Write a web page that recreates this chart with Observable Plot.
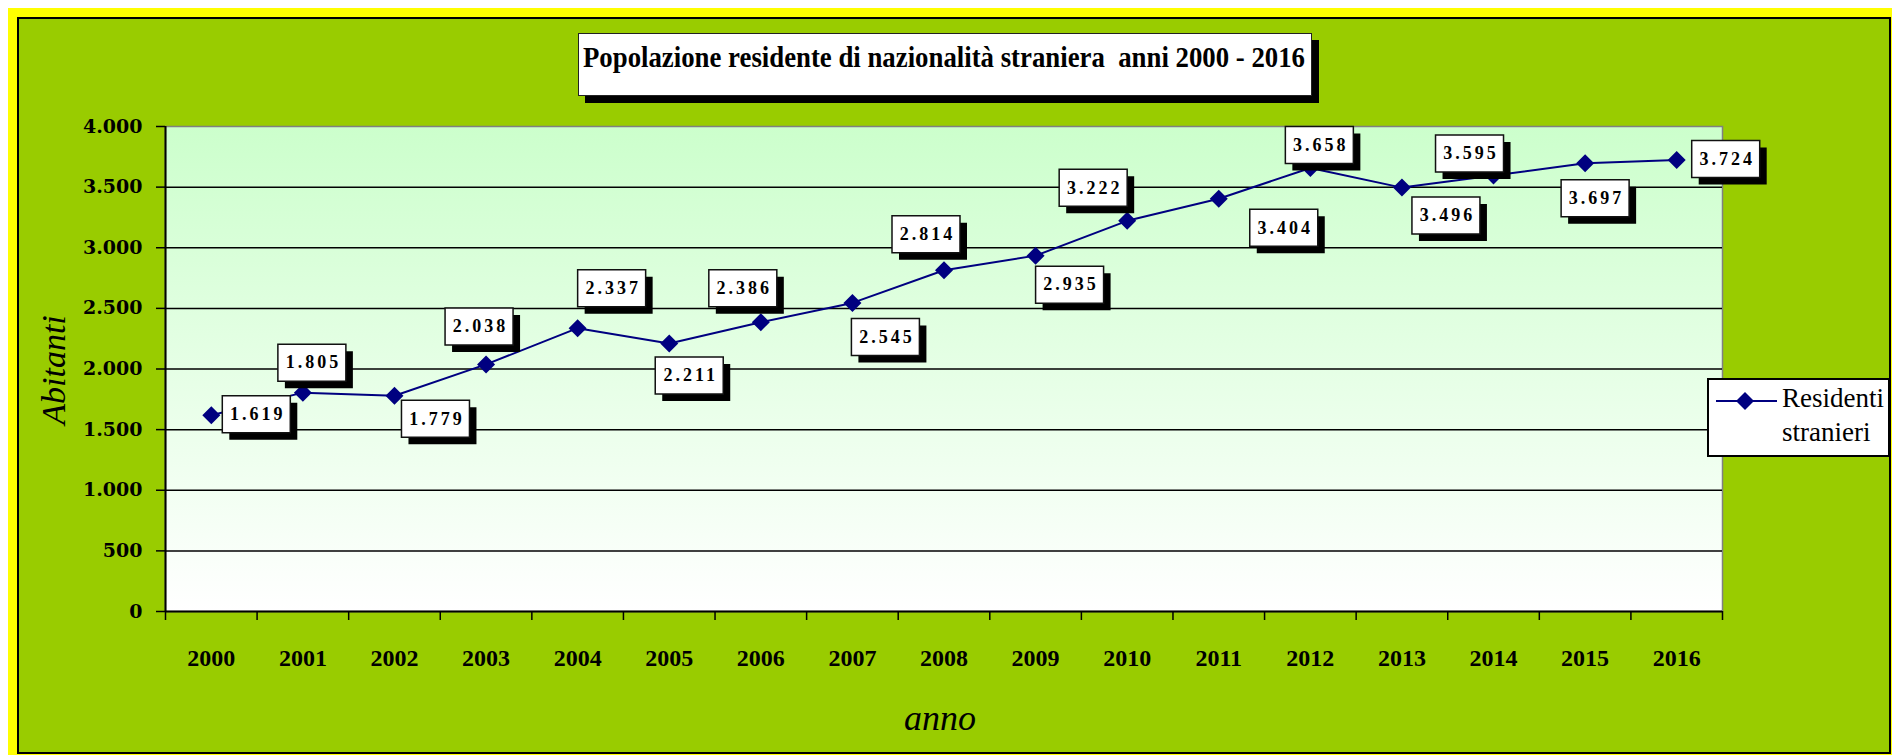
<!DOCTYPE html>
<html>
<head>
<meta charset="utf-8">
<script src="https://cdn.jsdelivr.net/npm/d3@7"></script>
<script src="https://cdn.jsdelivr.net/npm/@observablehq/plot@0.6"></script>
<style>
html, body { margin: 0; padding: 0; background: #fff; }
#page { position: relative; width: 1892px; height: 755px; overflow: hidden; }
#yellow { position: absolute; left: 8px; top: 8px; right: 0; bottom: 0; background: #ffff00; }
#green { position: absolute; left: 17px; top: 17px; width: 1874px; height: 737px; box-sizing: border-box; border: 2px solid #000; background: #99cc00; }
#chart { position: absolute; left: 0; top: 0; }
#title { position: absolute; left: 578px; top: 33px; width: 734px; height: 63px; box-sizing: border-box; background: #fff; border: 1.5px solid #222; box-shadow: 7px 7px 0 #000; }
#title svg, #legend svg { display: block; }
#legend { position: absolute; left: 1707px; top: 378px; width: 183px; height: 79px; box-sizing: border-box; background: #fff; border: 2px solid #000; }
#ylabel { position: absolute; left: 54px; top: 370px; transform: translate(-50%, -50%) rotate(-90deg); font: italic 34px "Liberation Serif"; white-space: nowrap; color: #000; }
#xlabel { position: absolute; left: 940px; top: 718px; transform: translate(-50%, -50%); font: italic 36px "Liberation Serif"; white-space: nowrap; color: #000; }
g[aria-label="y-axis tick label"] { font-family: "DejaVu Serif"; font-weight: bold; font-size: 19px; fill: #000; }
g[aria-label="x-axis tick label"] { font-family: "Liberation Serif"; font-weight: bold; font-size: 24px; fill: #000; }
g[aria-label="text"] text { letter-spacing: 3px; }
</style>
</head>
<body>
<div id="page">
  <div id="yellow"></div>
  <div id="green"></div>
  <div id="chart"></div>
  <div id="title"><svg width="731" height="60"><text transform="translate(365,33) scale(0.893,1)" x="0" y="0" text-anchor="middle" font-family="Liberation Serif" font-weight="bold" font-size="30" xml:space="preserve">Popolazione residente di nazionalità straniera  anni 2000 - 2016</text></svg></div>
  <div id="legend"><svg width="179" height="75">
    <line x1="7" x2="68" y1="21" y2="21" stroke="#000080" stroke-width="2"></line>
    <path d="M36,12L45,21L36,30L27,21Z" fill="#000080"></path>
    <text x="73" y="27" font-family="Liberation Serif" font-size="27">Residenti</text>
    <text x="73" y="61" font-family="Liberation Serif" font-size="27">stranieri</text>
  </svg></div>
  <div id="ylabel">Abitanti</div>
  <div id="xlabel">anno</div>
</div>
<script>
// ---- data ----
const years = [2000, 2001, 2002, 2003, 2004, 2005, 2006, 2007, 2008, 2009, 2010, 2011, 2012, 2013, 2014, 2015, 2016];
const residenti = [1619, 1805, 1779, 2038, 2337, 2211, 2386, 2545, 2814, 2935, 3222, 3404, 3658, 3496, 3595, 3697, 3724];
const yTicks = [0, 500, 1000, 1500, 2000, 2500, 3000, 3500, 4000];
const seriesName = "Residenti stranieri";

// ---- layout (label box offsets in px relative to each point) ----
const labelOffsets = [[45,-1],[9,-30],[41,23],[-7,-38],[34,-40],[20,32],[-18,-34],[33,34],[-18,-36],[34,29],[-34,-33],[65,29],[9,-23],[44,28],[-24,-22],[10,35],[49,-1]];

const fmt = d3.formatLocale({decimal: ",", thousands: ".", grouping: [3], currency: ["€", ""]}).format(",");
const data = years.map((year, i) => ({year, value: residenti[i], label: fmt(residenti[i])}));
const edges = years.map(y => y - 0.5).concat([years[years.length - 1] + 0.5]);

const diamond = {draw(ctx, size) { const h = Math.sqrt(size / Math.PI); ctx.moveTo(0, -h); ctx.lineTo(h, 0); ctx.lineTo(0, h); ctx.lineTo(-h, 0); ctx.closePath(); }};
const boxSym = {draw(ctx) { ctx.rect(-34, -18.5, 68, 37); }};

const defs = () => {
  const d = d3.create("svg:defs");
  const g = d.append("linearGradient").attr("id", "plotbg").attr("x1", 0).attr("y1", 0).attr("x2", 0).attr("y2", 1);
  g.append("stop").attr("offset", "0%").attr("stop-color", "#ccffcc");
  g.append("stop").attr("offset", "100%").attr("stop-color", "#ffffff");
  return d.node();
};

const labelMarks = data.flatMap((d, i) => {
  const [dx, dy] = labelOffsets[i];
  return [
    Plot.dot([d], {x: "year", y: "value", dx: dx + 7, dy: dy + 7, symbol: boxSym, fill: "#000"}),
    Plot.dot([d], {x: "year", y: "value", dx, dy, symbol: boxSym, fill: "#fff", stroke: "#111", strokeWidth: 1.5}),
    Plot.text([d], {x: "year", y: "value", dx: dx + 1.5, dy, text: "label", fontSize: 18, fontWeight: "bold", fontFamily: "Liberation Serif", fill: "#000"})
  ];
});

const chart = Plot.plot({
  width: 1892,
  height: 755,
  marginLeft: 165,
  marginRight: 170,
  marginTop: 126,
  marginBottom: 144,
  style: {background: "transparent", overflow: "visible"},
  x: {type: "linear", domain: [edges[0], edges[edges.length - 1]]},
  y: {domain: [0, 4000]},
  marks: [
    defs,
    Plot.frame({fill: "url(#plotbg)", stroke: "#808080", strokeWidth: 1.5}),
    Plot.ruleY(yTicks.slice(1, -1), {stroke: "#000", strokeWidth: 1.5}),
    Plot.ruleX([edges[0]], {stroke: "#000", strokeWidth: 2}),
    Plot.ruleY([0], {stroke: "#000", strokeWidth: 2}),
    Plot.axisY({ticks: yTicks, tickSize: 9, tickPadding: 14, tickFormat: fmt, label: null, strokeWidth: 1.5}),
    Plot.axisX({ticks: edges, tickSize: 9, tickFormat: () => "", label: null, strokeWidth: 1.5}),
    Plot.axisX({ticks: years, tickSize: 0, tickPadding: 37, tickFormat: d => String(d), label: null}),
    Plot.line(data, {x: "year", y: "value", stroke: "#000080", strokeWidth: 2}),
    Plot.dot(data, {x: "year", y: "value", symbol: diamond, r: 9, fill: "#000080"}),
    ...labelMarks
  ]
});
document.getElementById("chart").appendChild(chart);
</script>
</body>
</html>
